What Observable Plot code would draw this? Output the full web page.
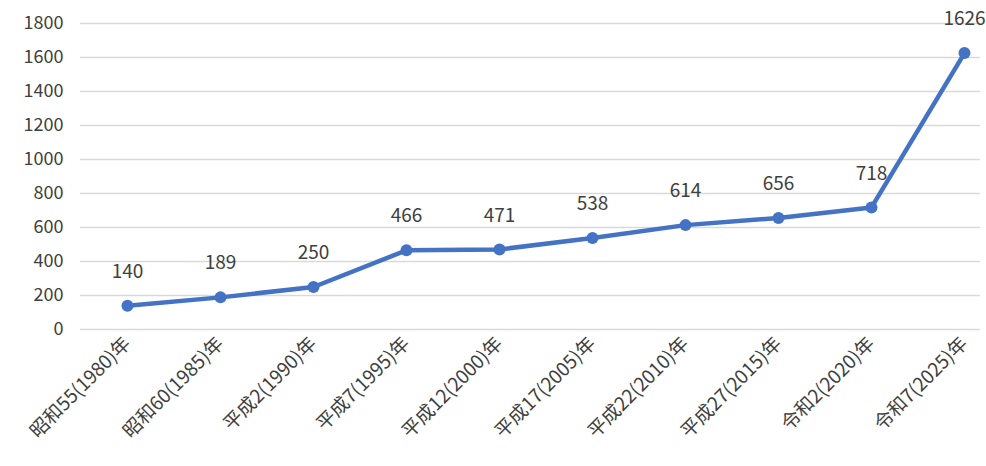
<!DOCTYPE html>
<html><head><meta charset="utf-8">
<script src="https://cdn.jsdelivr.net/npm/d3@7"></script>
<script src="https://cdn.jsdelivr.net/npm/@observablehq/plot@0.6"></script>
<style>
html,body{margin:0;padding:0;background:#fff;}
svg{font-family:"Noto Sans CJK JP","Noto Sans",sans-serif;}
</style>
</head><body>
<div id="chart"></div>
<script>
const categories = ["昭和55(1980)年","昭和60(1985)年","平成2(1990)年","平成7(1995)年","平成12(2000)年","平成17(2005)年","平成22(2010)年","平成27(2015)年","令和2(2020)年","令和7(2025)年"];
const values = [140,189,250,466,471,538,614,656,718,1626];
const yTicks = [0,200,400,600,800,1000,1200,1400,1600,1800];

const data = categories.map((c,i)=>({cat:c, v:values[i]}));
const blue = "#4472C4";

const chart = Plot.plot({
  width: 986, height: 466,
  marginTop: 23, marginBottom: 137, marginLeft: 80, marginRight: 6,
  style: {fontFamily: '"Noto Sans CJK JP","Noto Sans",sans-serif', color: "#404040", background: "#fff"},
  x: {type: "point", domain: categories, range: [126, 964], padding: 0},
  y: {domain: [0, 1800]},
  marks: [
    Plot.ruleY(yTicks, {stroke: "#d9d9d9", strokeWidth: 1.5}),
    Plot.axisY({ticks: yTicks, tickSize: 0, tickPadding: 17, fontSize: 18, fill: "#404040", label: null, tickFormat: d => String(d)}),
    Plot.axisX({tickSize: 0, tickRotate: -45, tickPadding: 11, fontSize: 19, fill: "#404040", label: null}),
    Plot.line(data, {x: "cat", y: "v", stroke: blue, strokeWidth: 4.5}),
    Plot.dot(data, {x: "cat", y: "v", r: 6, fill: blue}),
    Plot.text(data, {x: "cat", y: "v", text: d => String(d.v), dy: -34, fontSize: 19, fill: "#404040"})
  ]
});
document.getElementById("chart").appendChild(chart);
</script>
</body></html>
